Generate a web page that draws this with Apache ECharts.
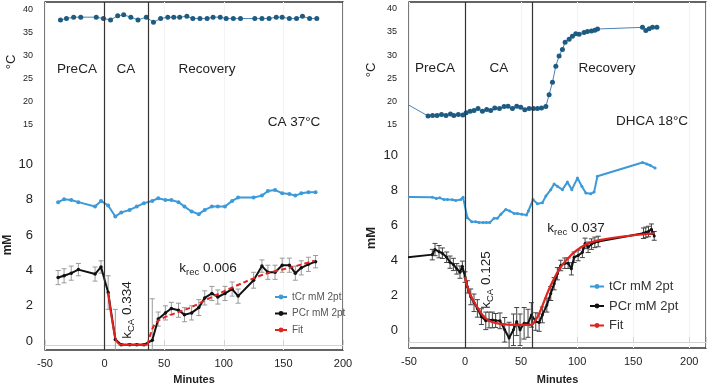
<!DOCTYPE html>
<html>
<head>
<meta charset="utf-8">
<title>PCr / tCr during CA and DHCA</title>
<script src="https://cdn.jsdelivr.net/npm/echarts@6/dist/echarts.min.js"></script>
<style>
  html, body { margin: 0; padding: 0; background: #fff; }
  #chart { width: 709px; height: 390px; }
</style>
</head>
<body>
<div id="chart"></div>
<script>
// ---- CA 37°C panel (left) ----
const leftTempTime = [-37, -32, -26, -20, -7, -1, 5, 11, 16, 22, 28, 35, 41, 47, 53, 58, 63, 69, 74, 80,
  86, 91, 97, 102, 108, 114, 126, 132, 138, 144, 149, 155, 161, 166, 172, 178];
const leftTemp = [37.8, 38.1, 38.4, 38.4, 38.4, 38.1, 37.8, 38.7, 38.9, 38.4, 37.8, 38.4, 37.3, 38.1, 38.4, 38.4, 38.4, 38.6, 38.1, 38.1,
  38.1, 38.4, 38.4, 38.1, 38.1, 38.1, 38.1, 38.1, 38.1, 38.4, 38.4, 38.1, 38.1, 38.6, 38.1, 38.1];

const leftTime = [-39, -34, -28, -22, -8, -3, 3, 9, 14, 21, 27, 33, 40, 45, 51, 56, 62, 67, 73, 79,
  84, 90, 95, 101, 107, 112, 125, 132, 137, 143, 149, 155, 160, 165, 171, 177];
const leftTcr = [7.87, 8.03, 7.99, 7.87, 7.62, 7.94, 7.68, 7.06, 7.29, 7.43, 7.62, 7.81, 7.94, 8.09, 7.99, 7.99, 7.87, 7.62, 7.34, 7.19,
  7.43, 7.62, 7.62, 7.62, 7.94, 8.13, 8.13, 8.24, 8.5, 8.56, 8.37, 8.33, 8.24, 8.37, 8.43, 8.43];
const leftPcr = [3.6, 3.7, 3.85, 4.05, 3.8, 4.2, 2.75, 0.1, -0.2, -0.2, -0.2, -0.2, 0.05, 1.25, 1.6, 1.85, 1.75, 1.5, 1.6, 1.9,
  2.45, 2.7, 2.5, 2.7, 2.95, 2.55, 3.45, 4.25, 3.9, 3.9, 4.3, 4.3, 3.85, 4.15, 4.35, 4.5];
const leftPcrErr = [0.4, 0.4, 0.4, 0.35, 0.4, 0.35, 0.95, 1.7, 0.05, 0.05, 0.05, 0.05, 2.35, 0.4, 0.4, 0.35, 0.4, 0.4, 0.4, 0.45,
  0.4, 0.4, 0.4, 0.4, 0.4, 0.4, 0.45, 0.35, 0.4, 0.4, 0.4, 0.4, 0.4, 0.4, 0.4, 0.35];
const leftFitCaTime = [3, 6, 9, 11, 14, 36];
const leftFitCa = [2.75, 1.3, 0.2, -0.1, -0.2, -0.2];
const leftFitRecTime = [36, 39, 42, 47, 56, 72, 95, 118, 136, 156, 176];
const leftFitRec = [-0.2, 0.5, 0.95, 1.25, 1.5, 1.9, 2.66, 3.36, 3.83, 4.17, 4.55];
const leftPhases = [0, 36.5];

// ---- DHCA 18°C panel (right) ----
const rightTempTime = [-52, -33, -29, -25, -21, -17, -13, -10, -6, -2, 1, 4.5, 8, 11.6, 15.5, 19.3, 22.9, 26.5, 30.7, 34.8,
  38.4, 42.3, 46.1, 49.7, 53.3, 57.1, 61, 64.6, 68.2, 72.1, 75, 78, 81, 83.9, 86.9, 89.3, 92.9, 95.8, 98.8, 101.8,
  106.2, 109.2, 112.8, 115.8, 118.2, 158.3, 161.3, 164.3, 167.3, 171.2];
const rightTemp = [19.4, 16.8, 16.9, 16.9, 17.1, 16.9, 17.2, 16.9, 17.1, 17.0, 17.5, 17.8, 18.0, 18.4, 17.8, 18.2, 18.0, 18.5, 18.4, 18.85,
  18.9, 18.4, 18.9, 18.7, 18.15, 18.4, 18.4, 18.4, 18.5, 18.85, 21.4, 24.1, 27.6, 29.8, 31.2, 32.8, 33.4, 34.1, 34.6, 34.5,
  34.9, 35.1, 35.2, 35.35, 35.65, 36.0, 35.3, 35.7, 36.0, 36.0];

const rightTcrTime = [-52, -29.2, -25.6, -22.6, -18.8, -15.8, -11.3, -8.3, -3.8, -1.8, 2.1, 6, 9.5, 12.5, 16.1, 19, 22, 25.9, 28.8, 31.9,
  36.3, 39.9, 43.8, 46.7, 50.6, 54.8, 56.5, 60.7, 64.6, 69, 72.1, 76.5, 79.5, 82.4, 86.9, 91.3, 95.3, 100.3, 104.2, 107.8,
  112.2, 115.2, 118.1, 158.3, 162.2, 165.2, 169.6];
const rightTcr = [7.62, 7.61, 7.53, 7.57, 7.47, 7.47, 7.46, 7.42, 7.47, 7.61, 6.44, 6.21, 6.21, 6.16, 6.16, 6.16, 6.16, 6.4, 6.4, 6.63,
  6.91, 6.82, 6.68, 6.68, 6.63, 6.59, 6.82, 7.47, 7.23, 7.29, 7.67, 8.04, 8.36, 8.23, 8.04, 8.47, 8.04, 8.7, 8.23, 7.85,
  7.8, 7.91, 8.8, 9.59, 9.5, 9.43, 9.27];

const rightPcrTime = [-52, -29.2, -26.8, -23.2, -20.2, -16.4, -13.4, -10.4, -7.4, -4.5, -2.4, 0, 2.1, 5.1, 8, 11, 14.6, 18.5, 21.4, 24.4,
  27.3, 31.2, 35.4, 39.3, 43.2, 46.1, 49.1, 52.7, 56.2, 59.2, 63.1, 66.1, 69, 73, 76.5, 79.5, 82.4, 85.4, 89, 92,
  94.9, 97.3, 100.9, 104.7, 107.1, 109.8, 112.8, 115.8, 118.8, 159.2, 161.3, 163.7, 166.3, 168.8];
const rightPcr = [4.17, 4.33, 4.62, 4.5, 4.41, 4.18, 3.9, 3.77, 3.52, 3.33, 3.66, 3.05, 2.49, 1.92, 1.58, 1.26, 0.79, 0.55, 0.6, 0.6,
  0.57, 0.55, 0.04, -0.43, 0.04, 0.51, 0.04, 0.41, 0.41, 0.89, 0.51, 0.45, 0.89, 1.45, 2.11, 2.67, 3.24, 3.71, 3.84, 3.84,
  3.52, 4.18, 4.28, 4.46, 4.97, 4.75, 4.93, 5.03, 5.08, 5.55, 5.6, 5.65, 5.78, 5.4];
const rightPcrErr = [0, 0.3, 0.35, 0.35, 0.3, 0.3, 0.35, 0.35, 0.3, 0.35, 0.3, 0.3, 0.35, 0.45, 0.5, 0.5, 0.45, 0.5, 0.45, 0.45,
  0.4, 0.45, 0.7, 0.9, 0.9, 0.8, 0.9, 0.9, 0.8, 0.7, 0.5, 0.5, 0.45, 0.4, 0.4, 0.35, 0.35, 0.3, 0.3, 0.3,
  0.35, 0.3, 0.3, 0.3, 0.3, 0.3, 0.3, 0.3, 0.3, 0.3, 0.3, 0.3, 0.3, 0.25];
const rightFitTime = [0, 3.6, 8, 12.5, 17, 22.9, 31.9, 43.8, 58.6, 63.1, 67.5, 72.1, 76.5, 81, 85.4, 91.3, 97.3, 104.7, 112.2, 124.1, 139, 168.8];
const rightFit = [3.05, 2.2, 1.64, 1.17, 0.79, 0.51, 0.38, 0.32, 0.32, 0.6, 1.17, 1.92, 2.58, 3.15, 3.62, 4.08, 4.46, 4.79, 5.03, 5.21, 5.35, 5.55];
const rightPhases = [0, 60];

const FONT = 'Liberation Sans, Arial, Helvetica, sans-serif';
const TEMP_COLOR = '#1d5b82';
const TCR_COLOR = '#3d9ad8';
const FIT_COLOR = '#e3231f';

const pairs = (xs, ys) => xs.map((x, i) => [x, ys[i]]);
const errData = (xs, ys, es) => xs.map((x, i) => [x, ys[i] - es[i], ys[i] + es[i]]);

// vertical error bars with small caps
function errBars(color) {
  return function (params, api) {
    const x = api.value(0);
    const top = api.coord([x, api.value(2)]);
    const bot = api.coord([x, api.value(1)]);
    const cap = 2.5;
    const st = { stroke: color, lineWidth: 1 };
    return {
      type: 'group',
      children: [
        { type: 'line', shape: { x1: top[0], y1: top[1], x2: bot[0], y2: bot[1] }, style: st },
        { type: 'line', shape: { x1: top[0] - cap, y1: top[1], x2: top[0] + cap, y2: top[1] }, style: st },
        { type: 'line', shape: { x1: bot[0] - cap, y1: bot[1], x2: bot[0] + cap, y2: bot[1] }, style: st }
      ]
    };
  };
}

function phaseLines(phases) {
  return {
    silent: true,
    symbol: 'none',
    label: { show: false },
    lineStyle: { color: '#333', width: 1.2, type: 'solid' },
    data: phases.map(p => ({ xAxis: p }))
  };
}

const tempLabel = v => (v >= 15 && v <= 40 && v % 5 === 0) ? String(v) : '';
const mmLabel = v => (v >= 0 && v <= 10 && v % 2 === 0) ? String(v) : '';
const minLabel = v => (v % 50 === 0) ? String(v) : '';

function xAxisFor(gridIndex, max, offset, margin, nameGap) {
  return {
    type: 'value', gridIndex: gridIndex, min: -50, max: max, interval: 50, offset: offset,
    name: 'Minutes', nameLocation: 'middle', nameGap: nameGap,
    nameTextStyle: { fontFamily: FONT, fontWeight: 'bold', fontSize: 11, color: '#222' },
    axisLine: { show: true, onZero: false, lineStyle: { color: '#d4d4d4', width: 1 } },
    axisTick: { show: true, inside: true, length: 5, lineStyle: { color: '#d4d4d4' } },
    axisLabel: { formatter: minLabel, fontFamily: FONT, fontSize: 11, color: '#222', margin: margin },
    splitLine: { show: true, lineStyle: { color: '#f3f3f3' } }
  };
}

function yAxisFor(gridIndex, min, max, interval, fmt, size, margin) {
  return {
    type: 'value', gridIndex: gridIndex, position: 'left', min: min, max: max, interval: interval,
    axisLine: { show: false, onZero: false }, axisTick: { show: false }, splitLine: { show: false },
    axisLabel: { formatter: fmt, fontFamily: FONT, fontSize: size, color: '#222', margin: margin }
  };
}

function txt(x, y, text, size, opts) {
  opts = opts || {};
  return {
    type: 'text', x: x, y: y, rotation: opts.rot || 0, silent: true, z: 50,
    style: {
      text: text, fontFamily: FONT, fontSize: size, fontWeight: opts.bold ? 'bold' : 'normal',
      fill: '#222', align: 'center', verticalAlign: 'middle', rich: opts.rich
    }
  };
}

const kRich = {
  a: { fontFamily: FONT, fontSize: 13.5, fill: '#222', lineHeight: 18, verticalAlign: 'middle' },
  b: { fontFamily: FONT, fontSize: 9.5, fill: '#222', lineHeight: 11, verticalAlign: 'bottom' }
};

const chart = echarts.init(document.getElementById('chart'), null, { renderer: 'canvas' });

chart.setOption({
  animation: false,
  backgroundColor: '#fff',
  grid: [
    { left: 45, width: 298, top: 2, bottom: 37, show: true, borderColor: '#333', borderWidth: 1.3, backgroundColor: 'transparent' },
    { left: 409, right: 2, top: 2, bottom: 39, show: true, borderColor: '#333', borderWidth: 1.3, backgroundColor: 'transparent' }
  ],
  xAxis: [
    xAxisFor(0, 200, -5, 13, 29),
    xAxisFor(1, 215, -6, 14, 32)
  ],
  yAxis: [
    yAxisFor(0, -34, 41.7, 1, tempLabel, 9, 12),
    yAxisFor(0, -0.5, 19.2, 0.5, mmLabel, 13, 12),
    yAxisFor(1, -33.5, 41.5, 0.5, tempLabel, 9, 12),
    yAxisFor(1, -1, 18.75, 0.25, mmLabel, 13, 11)
  ],
  legend: [
    {
      data: ['tCr mM 2pt', 'PCr mM 2pt', 'Fit'], orient: 'vertical', left: 269, top: 287,
      itemWidth: 12, itemHeight: 6, itemGap: 6.5, selectedMode: false,
      textStyle: { fontFamily: FONT, fontSize: 10, color: '#555' }
    },
    {
      data: ['tCr mM 2pt ', 'PCr mM 2pt ', 'Fit '], orient: 'vertical', left: 584, top: 275,
      itemWidth: 14, itemHeight: 6, itemGap: 6.5, selectedMode: false,
      textStyle: { fontFamily: FONT, fontSize: 13, color: '#333' }
    }
  ],
  series: [
    // left panel
    {
      name: 'Temp CA', type: 'line', xAxisIndex: 0, yAxisIndex: 0, data: pairs(leftTempTime, leftTemp),
      symbol: 'circle', symbolSize: 5, itemStyle: { color: TEMP_COLOR },
      lineStyle: { color: '#4a82b4', width: 1 }, z: 3, markLine: phaseLines(leftPhases)
    },
    {
      name: 'errL', type: 'custom', xAxisIndex: 0, yAxisIndex: 1, renderItem: errBars('#9a9a9a'),
      data: errData(leftTime, leftPcr, leftPcrErr), encode: { x: 0, y: [1, 2] }, clip: true, silent: true, z: 2
    },
    {
      name: 'tCr mM 2pt', type: 'line', xAxisIndex: 0, yAxisIndex: 1, data: pairs(leftTime, leftTcr),
      symbol: 'circle', symbolSize: 4, itemStyle: { color: TCR_COLOR }, lineStyle: { color: TCR_COLOR, width: 2 }, z: 3
    },
    {
      name: 'Fit', type: 'line', xAxisIndex: 0, yAxisIndex: 1, data: pairs(leftFitRecTime, leftFitRec),
      symbol: 'none', smooth: 0.3, itemStyle: { color: FIT_COLOR }, lineStyle: { color: FIT_COLOR, width: 2, type: [5, 3] }, z: 5
    },
    {
      name: 'PCr mM 2pt', type: 'line', xAxisIndex: 0, yAxisIndex: 1, data: pairs(leftTime, leftPcr),
      symbol: 'circle', symbolSize: 3.5, itemStyle: { color: '#111' }, lineStyle: { color: '#111', width: 2 }, z: 4
    },
    {
      name: 'Fit', type: 'line', xAxisIndex: 0, yAxisIndex: 1, data: pairs(leftFitCaTime, leftFitCa),
      symbol: 'none', smooth: 0.3, itemStyle: { color: FIT_COLOR }, lineStyle: { color: FIT_COLOR, width: 2 }, z: 5
    },
    // right panel
    {
      name: 'Temp DHCA', type: 'line', xAxisIndex: 1, yAxisIndex: 2, data: pairs(rightTempTime, rightTemp),
      symbol: 'circle', symbolSize: 5, itemStyle: { color: TEMP_COLOR },
      lineStyle: { color: '#4a82b4', width: 1 }, z: 3, markLine: phaseLines(rightPhases)
    },
    {
      name: 'errR', type: 'custom', xAxisIndex: 1, yAxisIndex: 3, renderItem: errBars('#444'),
      data: errData(rightPcrTime, rightPcr, rightPcrErr), encode: { x: 0, y: [1, 2] }, clip: true, silent: true, z: 2
    },
    {
      name: 'tCr mM 2pt ', type: 'line', xAxisIndex: 1, yAxisIndex: 3, data: pairs(rightTcrTime, rightTcr),
      symbol: 'circle', symbolSize: 3, itemStyle: { color: TCR_COLOR }, lineStyle: { color: TCR_COLOR, width: 2 }, z: 3
    },
    {
      name: 'PCr mM 2pt ', type: 'line', xAxisIndex: 1, yAxisIndex: 3, data: pairs(rightPcrTime, rightPcr),
      symbol: 'circle', symbolSize: 3, itemStyle: { color: '#111' }, lineStyle: { color: '#111', width: 2 }, z: 4
    },
    {
      name: 'Fit ', type: 'line', xAxisIndex: 1, yAxisIndex: 3, data: pairs(rightFitTime, rightFit),
      symbol: 'none', smooth: 0.4, itemStyle: { color: FIT_COLOR }, lineStyle: { color: FIT_COLOR, width: 2.2 }, z: 5
    }
  ],
  graphic: [
    txt(11, 62, '°C', 13, { rot: Math.PI / 2 }),
    txt(8, 245, 'mM', 12, { rot: Math.PI / 2, bold: true }),
    txt(77, 69, 'PreCA', 13.5),
    txt(126, 69, 'CA', 13.5),
    txt(207, 69, 'Recovery', 13.5),
    txt(294, 122, 'CA 37°C', 13.5),
    txt(127, 310, '{a|k}{b|CA}{a| 0.334}', 13.5, { rot: Math.PI / 2, rich: kRich }),
    txt(208, 268, '{a|k}{b|rec}{a| 0.006}', 13.5, { rich: kRich }),

    txt(371, 70, '°C', 13, { rot: Math.PI / 2 }),
    txt(371, 238, 'mM', 13, { rot: Math.PI / 2, bold: true }),
    txt(435, 68, 'PreCA', 13.5),
    txt(499, 68, 'CA', 13.5),
    txt(607, 68, 'Recovery', 13.5),
    txt(652, 121, 'DHCA 18°C', 13.5),
    txt(486, 280, '{a|k}{b|CA}{a| 0.125}', 13.5, { rot: Math.PI / 2, rich: kRich }),
    txt(576, 228, '{a|k}{b|rec}{a| 0.037}', 13.5, { rich: kRich })
  ]
});
</script>
</body>
</html>
